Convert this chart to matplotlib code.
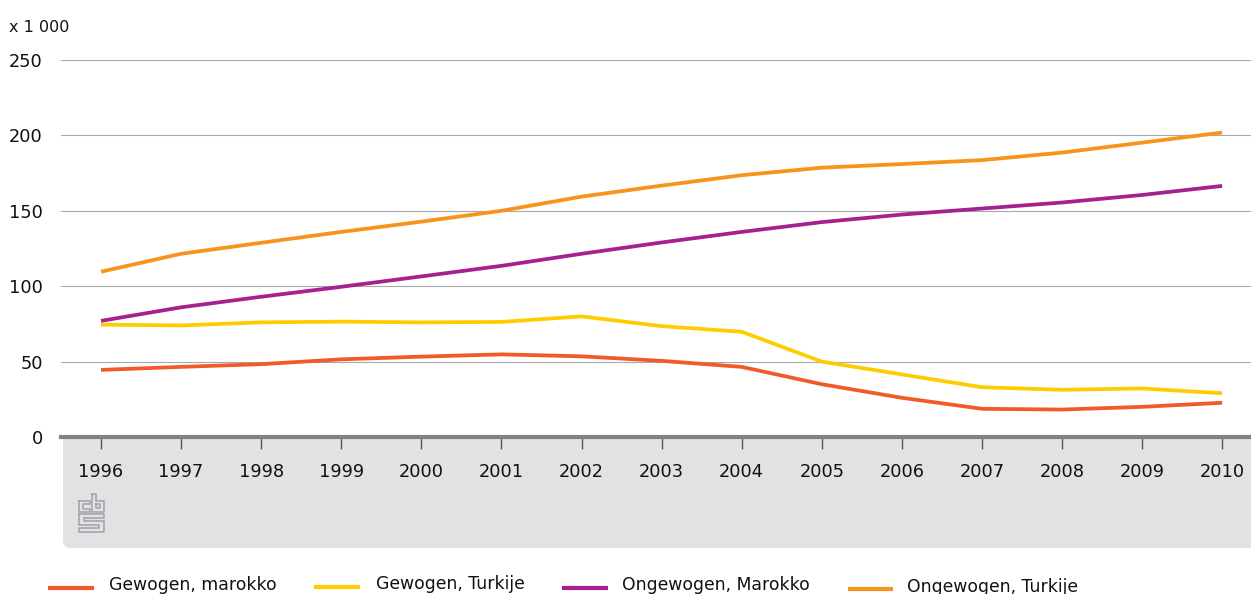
import matplotlib
matplotlib.use("Agg")
import matplotlib.pyplot as plt
from matplotlib.lines import Line2D
from matplotlib.patches import FancyBboxPatch
from matplotlib.transforms import Affine2D

years = list(range(1996, 2011))
gewogen_marokko = [44.5, 46.5, 48.3, 51.5, 53.3, 54.8, 53.5, 50.5, 46.5, 35, 26, 18.7, 18.2, 20, 22.7]
gewogen_turkije = [74.5, 74, 76, 76.5, 76, 76.3, 80, 73.5, 69.8, 50, 41.5, 33, 31.3, 32.2, 29]
ongewogen_marokko = [77, 86, 93, 99.6, 106.5, 113.5, 121.5, 129, 136, 142.5, 147.5, 151.5, 155.5, 160.5, 166.5]
ongewogen_turkije = [109.6, 121.5, 128.8, 136, 142.8, 150, 159.4, 166.7, 173.6, 178.6, 181, 183.6, 188.6, 195.2, 201.9]
y_ticks = [0, 50, 100, 150, 200, 250]

series_names = ["Gewogen, marokko", "Gewogen, Turkije", "Ongewogen, Marokko", "Ongewogen, Turkije"]
series_colors = ["#F15A29", "#FFCC00", "#A6208E", "#F7941D"]
series_values = [gewogen_marokko, gewogen_turkije, ongewogen_marokko, ongewogen_turkije]

W, H = 1251, 594
plt.rcParams["font.family"] = "DejaVu Sans"

fig = plt.figure(figsize=(W / 100, H / 100), dpi=100)
# pixel coordinates, origin top left, for everything outside the data area
px = Affine2D().scale(1, -1).translate(0, H)

ax = fig.add_axes([61 / W, 1 - 437 / H, (W - 61) / W, (437 - 60) / H])
ax.set_xlim(1995.5, 2010.36)
ax.set_ylim(0, 250)
ax.patch.set_alpha(0)

# grey band under the axis, only the lower left corner shows rounded
band = FancyBboxPatch((63 + 8, 437 + 8), W + 40, 111 - 16, boxstyle="round,pad=8,rounding_size=8",
                      transform=px, fc="#E1E2E4", ec="none", zorder=0)
fig.add_artist(band)
square = plt.Rectangle((63, 437), 30, 40, transform=px, fc="#E1E2E4", ec="none", zorder=0)
fig.add_artist(square)

ax.set_yticks(y_ticks)
ax.set_xticks(years)
ax.grid(axis="y", color="#A7A9AC", lw=0.8)
ax.set_axisbelow(True)
for name in ["top", "right", "left"]:
    ax.spines[name].set_visible(False)
ax.spines["bottom"].set_color("#808285")
ax.spines["bottom"].set_linewidth(3)
ax.tick_params(axis="y", length=0, labelsize=12.8, pad=13, labelcolor="#111111")
ax.tick_params(axis="x", length=8.5, width=1, color="#555555", labelsize=12.8, pad=10.5, labelcolor="#111111")

for vals, col in zip(series_values, series_colors):
    ax.plot(years, vals, color=col, lw=2.7, solid_capstyle="butt", clip_on=False, zorder=3)

fig.text(9, 32, "x 1 000", transform=px, fontsize=11.5, color="#111111", va="baseline")

# cbs logo, built from outlined blocks
logo = [
    [(79, 501), (90, 501), (90, 504), (83, 504), (83, 509), (90, 509), (90, 512), (79, 512), (79, 501)],
    [(92, 494), (96, 494), (96, 501), (104, 501), (104, 512), (92, 512), (92, 494)],
    [(96, 504), (100, 504), (100, 508), (96, 508), (96, 504)],
    [(79, 514), (104, 514), (104, 518), (84, 518), (84, 521), (104, 521), (104, 532), (79, 532),
     (79, 528), (99, 528), (99, 525), (79, 525), (79, 514)],
]
for path in logo:
    xs, ys = zip(*path)
    fig.add_artist(Line2D(xs, ys, transform=px, color="#A0A2A5", lw=1.1))

# legend row runs into the lower edge of the image
legend_lines = [(48, 94, 588), (314, 360, 587), (562, 608, 588), (848, 893, 589)]
legend_text = [109, 376, 622, 907]
text_base = [590, 589, 590, 592]
for name, col, (x0, x1, y), tx, ty in zip(series_names, series_colors, legend_lines, legend_text, text_base):
    fig.add_artist(Line2D([x0, x1], [y, y], transform=px, color=col, lw=3, solid_capstyle="butt"))
    fig.text(tx, ty, name, transform=px, fontsize=12.45, color="#111111", va="baseline")

fig.savefig("out.png", dpi=100)
